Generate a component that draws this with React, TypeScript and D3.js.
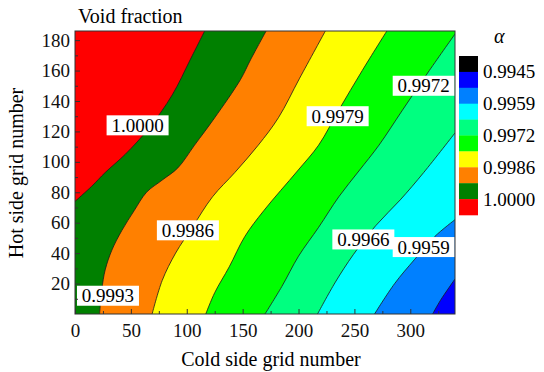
import React, { useEffect, useRef } from "react";
import * as d3 from "d3";

// contour lines: [cold side grid, hot side grid]
const line10000 = [[116, 186], [103, 167], [87, 144], [66, 122], [45, 105], [27, 93], [15, 84], [0, 74]];
const line9993 = [[171, 186], [157, 167], [148, 154], [125, 129], [107, 111], [92, 96], [78, 88], [64, 80], [53, 68], [42, 55], [33, 42], [27, 29], [24, 16], [22, 0]];
const line9986 = [[224, 186], [201, 155], [182, 129], [164, 111], [143, 93], [123, 77], [105, 57], [90, 40], [78, 22], [69, 0]];
const line9979 = [[279, 186], [257, 160], [236, 134], [218, 111], [199, 94], [169, 68], [152, 51], [138, 31], [125, 14], [117, 0]];
const line9972 = [[340, 184], [317, 160], [293, 134], [272, 111], [254, 94], [236, 77], [218, 57], [200, 38], [185, 18], [170, 0]];
const line9966 = [[340, 119], [312, 93], [291, 75], [269, 58], [249, 39], [233, 21], [217, 0]];
const line9959 = [[340, 62], [322, 51], [304, 36], [286, 20], [268, 0]];
const line9952 = [[340, 23], [327, 9], [320, 0]];

const contourLines = [line10000, line9993, line9986, line9979, line9972, line9966, line9959, line9952];
// colour of the region on the low side of each line, red is the top band
const topColor = "#ff0000";
const lowSideColors = ["#008000", "#ff8000", "#ffff00", "#00ff00", "#00ff80", "#00ffff", "#0080ff", "#0000ff"];

// inline labels
const labelText = ["1.0000", "0.9986", "0.9993", "0.9979", "0.9972", "0.9966", "0.9959"];
const labelX = [56, 101, 29.5, 235, 312, 258, 312];
const labelY = [124, 55, 12, 130, 150, 49, 44];

// colour bar, top to bottom
const barColors = ["#000000", "#0000ff", "#0080ff", "#00ffff", "#00ff80", "#00ff00", "#ffff00", "#ff8000", "#008000", "#ff0000"];
const barLabels = ["0.9945", "0.9959", "0.9972", "0.9986", "1.0000"];

const xTicks = [0, 50, 100, 150, 200, 250, 300];
const xMinor = [25, 75, 125, 175, 225, 275, 325];
const yTicks = [20, 40, 60, 80, 100, 120, 140, 160, 180];
const yMinor = [10, 30, 50, 70, 90, 110, 130, 150, 170];

const FONT = "'Liberation Serif', 'Times New Roman', serif";

const App = () => {
    const ref = useRef(null);

    useEffect(() => {
        const svg = d3.select(ref.current);
        svg.selectAll("*").remove();

        const xMax = 340, yMax = 186;
        const x = d3.scaleLinear().domain([0, xMax]).range([75, 455]);
        const y = d3.scaleLinear().domain([0, yMax]).range([314, 31]);

        const line = d3.line()
            .x(d => x(d[0]))
            .y(d => y(d[1]))
            .curve(d3.curveCatmullRom.alpha(0.5));

        const regionPath = pts => {
            const s = pts[0], e = pts[pts.length - 1];
            const corners = [];
            if (e[0] === 0) corners.push([0, 0]);
            corners.push([xMax, 0]);
            if (s[1] === yMax) corners.push([xMax, yMax]);
            return line(pts) + corners.map(c => `L${x(c[0])},${y(c[1])}`).join("") + "Z";
        };

        svg.append("clipPath").attr("id", "plotclip")
            .append("rect")
            .attr("x", x(0)).attr("y", y(yMax))
            .attr("width", x(xMax) - x(0)).attr("height", y(0) - y(yMax));

        const plot = svg.append("g").attr("clip-path", "url(#plotclip)");

        plot.append("rect")
            .attr("x", x(0)).attr("y", y(yMax))
            .attr("width", x(xMax) - x(0)).attr("height", y(0) - y(yMax))
            .attr("fill", topColor);

        plot.selectAll("path.band")
            .data(contourLines)
            .enter()
            .append("path")
            .attr("class", "band")
            .attr("d", regionPath)
            .attr("fill", (d, i) => lowSideColors[i]);

        plot.selectAll("path.cline")
            .data(contourLines)
            .enter()
            .append("path")
            .attr("class", "cline")
            .attr("d", line)
            .attr("fill", "none")
            .attr("stroke", "#1a1a1a")
            .attr("stroke-width", 0.8);

        // inline labels with white boxes
        const lab = plot.selectAll("g.lab")
            .data(labelText)
            .enter()
            .append("g")
            .attr("class", "lab")
            .attr("transform", (d, i) => `translate(${x(labelX[i])},${y(labelY[i])})`);
        lab.append("rect")
            .attr("x", -31).attr("y", -10)
            .attr("width", 62).attr("height", 20)
            .attr("fill", "white");
        lab.append("text")
            .attr("text-anchor", "middle")
            .attr("dy", "0.34em")
            .style("font-family", FONT)
            .style("font-size", "19px")
            .text(d => d);

        // frame
        svg.append("rect")
            .attr("x", x(0)).attr("y", y(yMax))
            .attr("width", x(xMax) - x(0)).attr("height", y(0) - y(yMax))
            .attr("fill", "none")
            .attr("stroke", "#333")
            .attr("stroke-width", 1);

        const styleAxis = g => {
            g.select(".domain").remove();
            g.selectAll("line").attr("stroke", "#333");
            g.selectAll("text")
                .attr("font-family", FONT)
                .attr("font-size", 19)
                .attr("fill", "#111");
        };

        svg.append("g")
            .attr("transform", `translate(0,${y(0)})`)
            .call(d3.axisBottom(x).tickValues(xTicks).tickSize(-5).tickPadding(10))
            .call(styleAxis);
        svg.append("g")
            .attr("transform", `translate(0,${y(0)})`)
            .call(d3.axisBottom(x).tickValues(xMinor).tickSize(-3).tickFormat(() => ""))
            .call(styleAxis);
        svg.append("g")
            .attr("transform", `translate(${x(0)},0)`)
            .call(d3.axisLeft(y).tickValues(yTicks).tickSize(-5).tickPadding(5))
            .call(styleAxis);
        svg.append("g")
            .attr("transform", `translate(${x(0)},0)`)
            .call(d3.axisLeft(y).tickValues(yMinor).tickSize(-3).tickFormat(() => ""))
            .call(styleAxis);

        // titles
        svg.append("text")
            .attr("x", 78).attr("y", 23)
            .style("font-family", FONT).style("font-size", "20px")
            .text("Void fraction");
        svg.append("text")
            .attr("x", 271).attr("y", 366)
            .attr("text-anchor", "middle")
            .style("font-family", FONT).style("font-size", "20px")
            .text("Cold side grid number");
        svg.append("text")
            .attr("transform", "translate(23,173) rotate(-90)")
            .attr("text-anchor", "middle")
            .style("font-family", FONT).style("font-size", "20px")
            .text("Hot side grid number");

        // colour bar
        const barTop = 56, barH = 15.9, barX = 459, barW = 19;
        svg.selectAll("rect.bar")
            .data(barColors)
            .enter()
            .append("rect")
            .attr("class", "bar")
            .attr("x", barX)
            .attr("y", (d, i) => barTop + i * barH)
            .attr("width", barW)
            .attr("height", barH + 0.3)
            .attr("fill", d => d);
        svg.selectAll("text.barlab")
            .data(barLabels)
            .enter()
            .append("text")
            .attr("class", "barlab")
            .attr("x", 483)
            .attr("y", (d, i) => barTop + (2 * i + 1) * barH)
            .attr("dy", "0.34em")
            .style("font-family", FONT)
            .style("font-size", "19px")
            .text(d => d);
        svg.append("text")
            .attr("x", 494).attr("y", 43)
            .style("font-family", FONT).style("font-size", "20px")
            .style("font-style", "italic")
            .text("α");
    }, []);

    return <svg ref={ref} width={544} height={372} style={{ position: "absolute", left: 0, top: 0, background: "white" }} />;
};

export default App;
